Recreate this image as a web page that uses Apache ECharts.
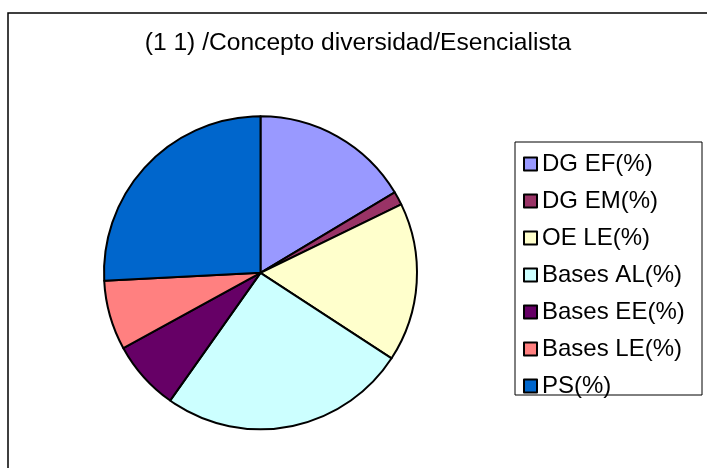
<!DOCTYPE html>
<html>
<head>
    <meta charset="utf-8" />
    <title>Concepto diversidad</title>
    <script src="https://cdn.jsdelivr.net/npm/echarts@6/dist/echarts.min.js"></script>
    <style>
        html, body { margin: 0; padding: 0; background: #fff; }
        #chart { width: 707px; height: 468px; }
    </style>
</head>
<body>
    <div id="chart"></div>
    <script>
        // categorias y porcentajes
        var categorias = ['DG EF(%)', 'DG EM(%)', 'OE LE(%)', 'Bases AL(%)', 'Bases EE(%)', 'Bases LE(%)', 'PS(%)'];
        var valores = [16.4, 1.4, 16.4, 25.6, 7.2, 7.2, 25.8];
        var colores = ['#9999FF', '#993366', '#FFFFCC', '#CCFFFF', '#660066', '#FF8080', '#0066CC'];

        var fuente = '"Liberation Sans", Arial, sans-serif';

        var datos = [];
        for (var i = 0; i < categorias.length; i++) {
            datos.push({ name: categorias[i], value: valores[i], itemStyle: { color: colores[i] } });
        }

        var myChart = echarts.init(document.getElementById('chart'));
        var option = {
            animation: false,
            title: {
                text: '(1 1) /Concepto diversidad/Esencialista',
                left: 358,
                textAlign: 'center',
                top: 31,
                padding: 0,
                textStyle: { fontFamily: fuente, fontSize: 24.6, fontWeight: 'normal', color: '#000' }
            },
            legend: {
                orient: 'vertical',
                left: 523,
                top: 152,
                padding: 0,
                itemWidth: 13,
                itemHeight: 13,
                itemGap: 13,
                itemTextGap: 9,
                icon: 'rect',
                selectedMode: false,
                itemStyle: { borderColor: '#000', borderWidth: 2 },
                textStyle: { fontFamily: fuente, fontSize: 24, lineHeight: 24, color: '#000' },
                data: categorias
            },
            graphic: [
                {
                    type: 'rect',
                    silent: true,
                    shape: { x: 8, y: 13, width: 720, height: 480 },
                    style: { fill: 'none', stroke: '#000', lineWidth: 1.5 }
                },
                {
                    type: 'rect',
                    silent: true,
                    shape: { x: 515, y: 142, width: 187, height: 253 },
                    style: { fill: 'none', stroke: '#000', lineWidth: 1 }
                }
            ],
            series: [
                {
                    type: 'pie',
                    center: [260.5, 272.8],
                    radius: 156.5,
                    startAngle: 90,
                    clockwise: true,
                    label: { show: false },
                    labelLine: { show: false },
                    emphasis: { disabled: true },
                    itemStyle: { borderColor: '#000', borderWidth: 2 },
                    data: datos
                }
            ]
        };
        myChart.setOption(option);
    </script>
</body>
</html>
